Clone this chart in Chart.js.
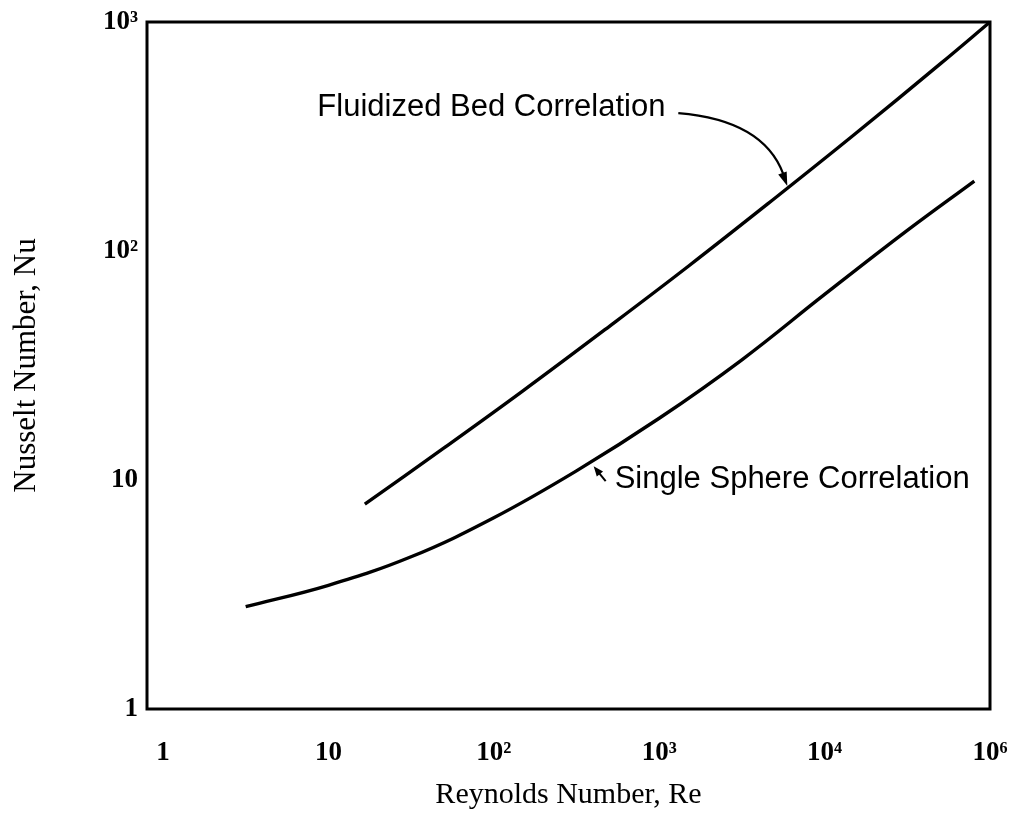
<!DOCTYPE html>
<html>
<head>
<meta charset="utf-8">
<script src="https://cdn.jsdelivr.net/npm/chart.js@4/dist/chart.umd.min.js"></script>
<style>
  html, body { margin: 0; padding: 0; background: #fff; }
  #wrap { width: 1026px; height: 813px; }
</style>
</head>
<body>
<div id="wrap"><canvas id="nuChart" width="1026" height="813"></canvas></div>
<script>
// --- Correlation curves (Re, Nu) ---
const fluidRe = [16.6, 50, 150, 500, 1500, 5000, 15000, 50000, 100000];
const fluidNu = [7.85, 13.8, 24.5, 46.9, 85.8, 170, 321, 656, 1000];

const sphereRe = [3.16, 10, 31.6, 100, 316, 1000, 3162, 10000, 31623, 80400];
const sphereNu = [2.8, 3.47, 4.62, 6.84, 10.96, 18.6, 33.5, 64.6, 123, 202];

// --- Axes ---
const xTickValues = [1, 10, 100, 1000, 10000, 100000];
const xTickLabels = ['1', '10', '10²', '10³', '10⁴', '10⁶'];
const yTickValues = [1, 10, 100, 1000];
const yTickLabels = ['1', '10', '10²', '10³'];

// points the callout arrows touch
const fluidTip = [5950, 192];
const sphereTip = [396, 11.6];

const SERIF = '"Liberation Serif", "DejaVu Serif", serif';
const SANS = '"Liberation Sans", Arial, sans-serif';

function toPoints(xs, ys) {
    return xs.map((v, i) => ({ x: v, y: ys[i] }));
}

function arrowHead(ctx, x, y, angle, len, half) {
    const bx = x - len * Math.cos(angle);
    const by = y - len * Math.sin(angle);
    ctx.beginPath();
    ctx.moveTo(x, y);
    ctx.lineTo(bx + half * Math.sin(angle), by - half * Math.cos(angle));
    ctx.lineTo(bx - half * Math.sin(angle), by + half * Math.cos(angle));
    ctx.closePath();
    ctx.fill();
}

// frame around the plot + the two labelled arrows
const framePlugin = {
    id: 'frame',
    afterDatasetsDraw(chart) {
        const { ctx, chartArea: a, scales: { x, y } } = chart;
        ctx.save();
        ctx.strokeStyle = '#000';
        ctx.fillStyle = '#000';
        ctx.lineWidth = 3;
        ctx.strokeRect(a.left, a.top, a.right - a.left, a.bottom - a.top);

        ctx.font = '31px ' + SANS;
        ctx.textBaseline = 'alphabetic';
        ctx.textAlign = 'left';

        // Fluidized bed callout
        const fx = x.getPixelForValue(fluidTip[0]);
        const fy = y.getPixelForValue(fluidTip[1]);
        ctx.fillText('Fluidized Bed Correlation', fx - 470, fy - 70);
        ctx.lineWidth = 2.2;
        ctx.beginPath();
        ctx.moveTo(fx - 109, fy - 73);
        ctx.quadraticCurveTo(fx - 24, fy - 66, fx - 4, fy - 12);
        ctx.stroke();
        arrowHead(ctx, fx, fy, Math.atan2(54, 20), 14, 4.5);

        // Single sphere callout
        const sx = x.getPixelForValue(sphereTip[0]);
        const sy = y.getPixelForValue(sphereTip[1]);
        ctx.fillText('Single Sphere Correlation', sx + 22, sy + 23);
        ctx.lineWidth = 2;
        ctx.beginPath();
        ctx.moveTo(sx + 13, sy + 16);
        ctx.lineTo(sx + 4, sy + 5);
        ctx.stroke();
        arrowHead(ctx, sx + 1, sy + 1, Math.atan2(-15, -12), 10, 4);
        ctx.restore();
    }
};

const lineStyle = {
    borderColor: '#000',
    borderWidth: 3.4,
    pointRadius: 0,
    fill: false,
    tension: 0.4,
    clip: false
};

new Chart(document.getElementById('nuChart').getContext('2d'), {
    type: 'line',
    data: {
        datasets: [
            { label: 'Fluidized Bed Correlation', data: toPoints(fluidRe, fluidNu), ...lineStyle },
            { label: 'Single Sphere Correlation', data: toPoints(sphereRe, sphereNu), ...lineStyle }
        ]
    },
    options: {
        responsive: false,
        animation: false,
        layout: { padding: { left: 0, right: 36, top: 22, bottom: 0 } },
        plugins: {
            legend: { display: false },
            tooltip: { enabled: false }
        },
        scales: {
            x: {
                type: 'logarithmic',
                min: 0.8,
                max: 100000,
                grid: { display: false, drawTicks: false },
                border: { display: false },
                afterBuildTicks: s => { s.ticks = xTickValues.map(v => ({ value: v })); },
                afterFit: s => { s.height = 104; s.paddingLeft = 0; s.paddingRight = 0; },
                ticks: {
                    autoSkip: false,
                    maxRotation: 0,
                    padding: 28,
                    color: '#000',
                    font: { family: SERIF, size: 27, weight: 'bold' },
                    callback: (v, i) => xTickLabels[i]
                },
                title: {
                    display: true,
                    text: 'Reynolds Number, Re',
                    color: '#000',
                    font: { family: SERIF, size: 30 },
                    padding: { top: 0, bottom: 0 }
                }
            },
            y: {
                type: 'logarithmic',
                min: 1,
                max: 1000,
                grid: { display: false, drawTicks: false },
                border: { display: false },
                afterBuildTicks: s => { s.ticks = yTickValues.map(v => ({ value: v })); },
                afterFit: s => { s.width = 147; s.paddingTop = 0; s.paddingBottom = 0; },
                ticks: {
                    autoSkip: false,
                    padding: 9,
                    color: '#000',
                    font: { family: SERIF, size: 27, weight: 'bold' },
                    callback: (v, i) => yTickLabels[i]
                },
                title: {
                    display: true,
                    text: 'Nusselt Number, Nu',
                    color: '#000',
                    font: { family: SERIF, size: 31 },
                    padding: { top: 8, bottom: 0 }
                }
            }
        }
    },
    plugins: [framePlugin]
});
</script>
</body>
</html>
